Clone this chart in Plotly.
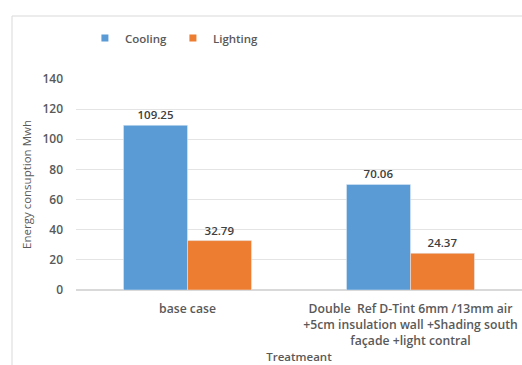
import plotly.graph_objects as go

categories = [
    "base case",
    "Double  Ref D-Tint 6mm /13mm air<br>+5cm insulation wall +Shading south<br>façade +light contral",
]
cooling = [109.25, 70.06]
lighting = [32.79, 24.37]
y_ticks = [0, 20, 40, 60, 80, 100, 120, 140]

BLUE = "#5B9BD5"
ORANGE = "#ED7D31"
TEXT = "#595959"
FONT = "Open Sans"

fig = go.Figure()
for name, vals, color in [("Cooling", cooling, BLUE), ("Lighting", lighting, ORANGE)]:
    fig.add_trace(go.Bar(
        name=name, x=categories, y=vals, marker_color=color,
        text=[f"{v:.2f}" for v in vals], textposition="outside",
        textfont=dict(family=FONT, size=11.5, color="#404040", weight=600),
        cliponaxis=False, showlegend=False,
    ))
    # small square legend keys
    fig.add_trace(go.Scatter(
        name=name, x=[None], y=[None], mode="markers",
        marker=dict(symbol="square", size=7, color=color),
        showlegend=True,
    ))

fig.update_layout(
    width=522, height=365,
    margin=dict(l=76, r=0, t=79, b=75),
    paper_bgcolor="white", plot_bgcolor="white",
    barmode="group", bargap=0.426, bargroupgap=0,
    font=dict(family=FONT, color=TEXT, size=11),
    legend=dict(
        orientation="h", x=0.02, y=1.194, xanchor="left", yanchor="middle",
        font=dict(family=FONT, size=11.5, color=TEXT, weight=600),
        itemwidth=30, traceorder="normal", entrywidth=43,
    ),
    xaxis=dict(
        showline=False, showgrid=False, ticks="", ticklabelstandoff=10,
        tickfont=dict(family=FONT, size=12.2, color=TEXT, weight=600),
        title=dict(text="Treatmeant", standoff=5,
                   font=dict(family=FONT, size=11.5, color=TEXT, weight=600)),
    ),
    yaxis=dict(
        range=[0, 140], tickvals=y_ticks, showline=False,
        gridcolor="#E4E4E4", gridwidth=1, zeroline=True, zerolinecolor="#D9D9D9",
        ticks="", ticklabelstandoff=12,
        tickfont=dict(family=FONT, size=12, color=TEXT, weight=600),
        title=dict(text="Energy consuption Mwh", standoff=8,
                   font=dict(family=FONT, size=11.5, color=TEXT)),
    ),
)

# outer chart frame (left and top edges)
frame = dict(color="#D9D9D9", width=1)
fig.add_shape(type="line", xref="paper", yref="paper",
              x0=(12 - 76) / 446, x1=(12 - 76) / 446, y0=(290 - 365) / 211, y1=(290 - 16) / 211, line=frame)
fig.add_shape(type="line", xref="paper", yref="paper",
              x0=(12 - 76) / 446, x1=1.01, y0=(290 - 16) / 211, y1=(290 - 16) / 211, line=frame)

fig.write_html("out.html")
